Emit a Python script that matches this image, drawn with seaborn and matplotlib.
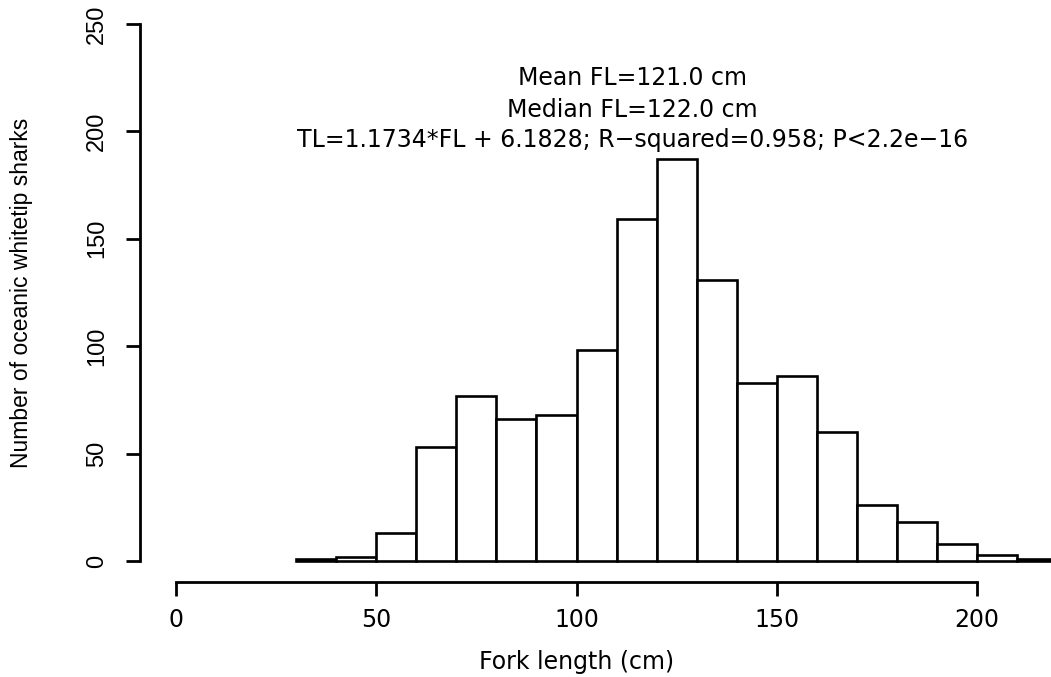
import matplotlib
matplotlib.use("Agg")
import matplotlib.pyplot as plt
import seaborn as sns
import numpy as np
import pandas as pd

# Histogram bins (fork length, cm) and counts
bin_edges = [30, 40, 50, 60, 70, 80, 90, 100, 110, 120, 130, 140, 150, 160, 170, 180, 190, 200, 210, 220]
counts = [1, 2, 13, 53, 77, 66, 68, 98, 159, 187, 131, 83, 86, 60, 26, 18, 8, 3, 1]
x_ticks = [0, 50, 100, 150, 200]
y_ticks = [0, 50, 100, 150, 200, 250]
annotations = ["Mean FL=121.0 cm",
               "Median FL=122.0 cm",
               "TL=1.1734*FL + 6.1828; R\u2212squared=0.958; P<2.2e\u221216"]
x_label = "Fork length (cm)"
y_label = "Number of oceanic whitetip sharks"

sns.set_theme(style="ticks", rc={"text.color": "black", "axes.labelcolor": "black",
                                 "xtick.color": "black", "ytick.color": "black",
                                 "axes.edgecolor": "black"})
plt.rcParams['font.family'] = ['DejaVu Sans']

mids = [(a + b) / 2 for a, b in zip(bin_edges[:-1], bin_edges[1:])]
df = pd.DataFrame({"fl": mids, "n": counts})

W, H = 1051, 677
fig = plt.figure(figsize=(W / 100, H / 100), dpi=100)
ax = fig.add_axes([0, 0, 1, 1])

sns.histplot(data=df, x="fl", weights="n", bins=bin_edges, ax=ax,
             color="white", edgecolor="black", linewidth=1.9, alpha=1)

# pixel mapping: x=0 -> 176px, 4.005 px/unit ; y=0 -> 561px from top, 2.148 px/unit
px_x = 4.005
px_y = 2.148
ax.set_xlim(-176 / px_x, (W - 176) / px_x)
ax.set_ylim(-(H - 561) / px_y, 561 / px_y)
ax.patch.set_alpha(0)

for s in ["top", "right"]:
    ax.spines[s].set_visible(False)
ax.spines["left"].set_position(("data", (140 - 176) / px_x))
ax.spines["bottom"].set_position(("data", -(582 - 561) / px_y))
ax.spines["left"].set_bounds(0, 250)
ax.spines["bottom"].set_bounds(0, 200)
for s in ["left", "bottom"]:
    ax.spines[s].set_linewidth(2.0)
    ax.spines[s].set_color("black")

ax.set_xticks(x_ticks)
ax.set_yticks(y_ticks)
ax.tick_params(axis="both", which="major", direction="out", length=10, width=2.0,
               color="black", labelcolor="black", bottom=True, left=True)
ax.tick_params(axis="x", labelsize=17, pad=9)
ax.tick_params(axis="y", pad=13)
for lab in ax.get_yticklabels():
    lab.set_rotation(90)
    lab.set_va("center")
    lab.set_family(["Liberation Sans", "DejaVu Sans"])
    lab.set_fontsize(17)

ax.set_xlabel("")
ax.set_ylabel("")
ax.text(100, -(662 - 561) / px_y, x_label, ha="center", va="center", fontsize=17,
        color="black")
ax.text((22 - 176) / px_x, 125, y_label, ha="center", va="center", rotation=90,
        fontsize=16.5, family=["Liberation Sans", "DejaVu Sans"], color="black")

ys = [(561 - 78) / px_y, (561 - 110) / px_y, (561 - 140) / px_y]
for t, yy in zip(annotations, ys):
    ax.text(114, yy, t, ha="center", va="center", fontsize=17, color="black")

fig.savefig("out.png", dpi=100)
